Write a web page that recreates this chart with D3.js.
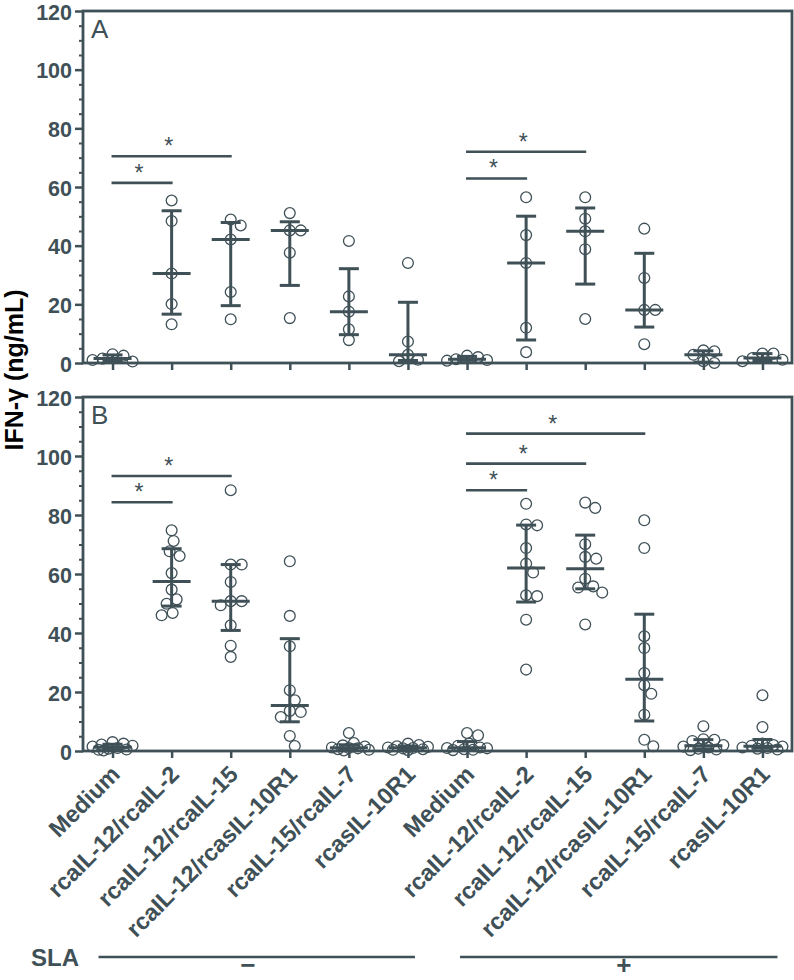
<!DOCTYPE html>
<html>
<head>
<meta charset="utf-8">
<script src="https://cdn.jsdelivr.net/npm/d3@7"></script>
<style>
  html, body { margin: 0; padding: 0; background: #fff; }
  svg { display: block; }
  text { font-family: "Liberation Sans", Arial, Helvetica, sans-serif; }
</style>
</head>
<body>
<div id="chart"></div>
<script>
// ---------- data ----------
const categories = [
  "Medium", "rcaIL-12/rcaIL-2", "rcaIL-12/rcaIL-15", "rcaIL-12/rcasIL-10R1", "rcaIL-15/rcaIL-7", "rcasIL-10R1",
  "Medium", "rcaIL-12/rcaIL-2", "rcaIL-12/rcaIL-15", "rcaIL-12/rcasIL-10R1", "rcaIL-15/rcaIL-7", "rcasIL-10R1"
];
const slaGroups = [
  { label: "\u2212", from: 0, to: 5 },
  { label: "+", from: 6, to: 11 }
];
const yTicks = [0, 20, 40, 60, 80, 100, 120];

// Panel A (n = 5 per group), IFN-γ ng/mL
const valuesA = [
  [3.0, 2.5, 1.5, 1.0, 0.5],
  [55.4, 48.4, 30.5, 20.1, 13.2],
  [48.9, 46.9, 42.1, 24.2, 14.9],
  [51.1, 45.2, 45.2, 37.6, 15.3],
  [41.6, 22.7, 17.5, 11.5, 7.8],
  [34.1, 7.3, 2.8, 1.1, 0.6],
  [2.5, 2.0, 1.3, 1.0, 0.8],
  [56.5, 43.6, 34.1, 12.0, 3.7],
  [56.5, 49.2, 44.9, 38.8, 15.0],
  [45.8, 29.0, 18.1, 18.1, 6.4],
  [4.3, 4.0, 2.8, 0.6, 0.0],
  [3.2, 3.2, 1.7, 1.1, 0.6]
];

// Panel B (n = 10 per group)
const valuesB = [
  [3.0, 2.5, 2.2, 1.8, 1.5, 1.0, 0.8, 0.5, 0.4, 0.2],
  [74.8, 71.2, 67.7, 66.1, 60.3, 54.7, 51.4, 49.9, 46.8, 46.0],
  [88.4, 63.2, 63.2, 57.3, 50.8, 50.8, 49.4, 42.6, 35.7, 31.9],
  [64.3, 45.8, 35.5, 20.6, 17.2, 13.6, 13.2, 11.5, 5.1, 1.7],
  [6.1, 2.7, 1.9, 1.5, 1.2, 1.0, 0.9, 0.6, 0.4, 0.2],
  [2.5, 2.0, 1.6, 1.4, 1.2, 1.0, 0.9, 0.6, 0.4, 0.3],
  [6.1, 5.3, 2.5, 1.8, 1.2, 1.0, 0.9, 0.6, 0.4, 0.3],
  [83.8, 76.8, 76.5, 68.8, 63.5, 60.5, 52.8, 52.5, 44.5, 27.6],
  [84.2, 82.4, 70.1, 65.8, 65.2, 58.4, 55.8, 55.4, 53.7, 42.9],
  [78.2, 68.8, 38.9, 34.9, 26.4, 22.3, 19.4, 12.3, 3.8, 1.6],
  [8.4, 4.0, 3.8, 3.4, 2.0, 1.5, 1.2, 0.8, 0.5, 0.3],
  [18.9, 8.1, 2.5, 2.0, 1.8, 1.5, 1.2, 1.0, 0.8, 0.5]
];

// significance comparisons: [from, to, level (ng/mL)]
const sigA = [[0, 1, 61.4], [0, 2, 70.5], [6, 7, 62.9], [6, 8, 72.0]];
const sigB = [[0, 1, 84.3], [0, 2, 93.2], [6, 7, 88.4], [6, 8, 97.4], [6, 9, 107.6]];

// ---------- drawing ----------
const W = 794, H = 980;
const C = "#3f5057";
const svg = d3.select("#chart").append("svg").attr("width", W).attr("height", H);

const left = 83, right = 792;
const x = d3.scalePoint().domain(d3.range(categories.length)).range([left, right]).padding(0.5);

const panels = [
  { letter: "A", top: 11, bottom: 363, values: valuesA, sig: sigA, labels: false },
  { letter: "B", top: 397, bottom: 751, values: valuesB, sig: sigB, labels: true }
];

function gpQuantile(sorted, p) {
  const n = sorted.length;
  const h = (n + 1) * p;
  if (h <= 1) return sorted[0];
  if (h >= n) return sorted[n - 1];
  const lo = Math.floor(h);
  return sorted[lo - 1] + (h - lo) * (sorted[lo] - sorted[lo - 1]);
}

const R = 5.4;
function dodge(vals, y, maxOff) {
  const placed = [];
  return vals.map(v => {
    const py = y(v);
    let best = 0, bestScore = -Infinity, found = null;
    for (let k = 0; k <= 2 * maxOff; k++) {
      const off = (k % 2 === 1 ? 1 : -1) * Math.ceil(k / 2);
      let md = Infinity;
      placed.forEach(p => { md = Math.min(md, Math.hypot(p.dx - off, p.py - py)); });
      if (md >= 2 * R) { found = off; break; }
      if (md > bestScore + 0.01) { bestScore = md; best = off; }
    }
    const dx = found !== null ? found : best;
    placed.push({ dx, py });
    return { v, dx, py };
  });
}

panels.forEach(P => {
  const y = d3.scaleLinear().domain([0, 120]).range([P.bottom, P.top]);
  const g = svg.append("g");

  // y axis major
  const ya = g.append("g").attr("transform", `translate(${left},0)`)
    .call(d3.axisLeft(y).tickValues(yTicks).tickSize(8).tickPadding(3).tickSizeOuter(0));
  ya.select(".domain").remove();
  ya.selectAll("line").attr("stroke", C).attr("stroke-width", 2.5);
  ya.selectAll("text").attr("fill", C).style("font-size", "21.5px").style("font-weight", "bold")
    .attr("dy", "0.38em");
  // minor ticks
  const ym = g.append("g").attr("transform", `translate(${left},0)`)
    .call(d3.axisLeft(y).tickValues(d3.range(0, 121, 5).filter(v => v % 20 !== 0)).tickSize(4).tickFormat(""));
  ym.select(".domain").remove();
  ym.selectAll("line").attr("stroke", C).attr("stroke-width", 2);

  // x ticks
  const xa = g.append("g").attr("transform", `translate(0,${P.bottom})`)
    .call(d3.axisBottom(x).tickSize(7).tickFormat("").tickSizeOuter(0));
  xa.select(".domain").remove();
  xa.selectAll("line").attr("stroke", C).attr("stroke-width", 2.5);

  // frame
  g.append("rect").attr("x", left).attr("y", P.top)
    .attr("width", right - left).attr("height", P.bottom - P.top)
    .attr("fill", "none").attr("stroke", C).attr("stroke-width", 2.8);

  // panel letter
  g.append("text").attr("x", left + 8).attr("y", P.top + 27)
    .attr("fill", C).style("font-size", "26px").text(P.letter);

  // points
  P.values.forEach((vals, i) => {
    const cx = x(i);
    const pts = dodge(vals, y, 20);
    g.append("g").selectAll("circle").data(pts).join("circle")
      .attr("cx", d => cx + d.dx).attr("cy", d => d.py).attr("r", R)
      .attr("fill", "none").attr("stroke", C).attr("stroke-width", 1.3);

    const s = vals.slice().sort((a, b) => a - b);
    const med = gpQuantile(s, 0.5), q1 = gpQuantile(s, 0.25), q3 = gpQuantile(s, 0.75);
    const eg = g.append("g").attr("stroke", C).attr("stroke-width", 3);
    eg.append("line").attr("x1", cx).attr("x2", cx).attr("y1", y(q1)).attr("y2", y(q3));
    eg.append("line").attr("x1", cx - 10).attr("x2", cx + 10).attr("y1", y(q1)).attr("y2", y(q1));
    eg.append("line").attr("x1", cx - 10).attr("x2", cx + 10).attr("y1", y(q3)).attr("y2", y(q3));
    eg.append("line").attr("x1", cx - 19).attr("x2", cx + 19).attr("y1", y(med)).attr("y2", y(med));
  });

  // significance bars
  P.sig.forEach(([a, b, lvl]) => {
    g.append("line").attr("x1", x(a) - 1).attr("x2", x(b) + 1)
      .attr("y1", y(lvl)).attr("y2", y(lvl))
      .attr("stroke", C).attr("stroke-width", 2.6);
    g.append("text").attr("x", (x(a) + x(b)) / 2 - 3).attr("y", y(lvl) - 2)
      .attr("text-anchor", "middle").attr("fill", C)
      .style("font-size", "23px").text("*");
  });

  // category labels
  if (P.labels) {
    g.append("g").selectAll("text").data(categories).join("text")
      .attr("transform", (d, i) => `translate(${x(i) + 3},${P.bottom + 19}) rotate(-45)`)
      .attr("text-anchor", "end").attr("dy", "0.35em")
      .attr("fill", C).style("font-size", "23.5px").style("font-weight", "bold")
      .text(d => d);
  }
});

// y axis title
svg.append("text")
  .attr("transform", `translate(23,370) rotate(-90)`)
  .attr("text-anchor", "middle").attr("fill", "#000")
  .style("font-size", "25px").style("font-weight", "bold")
  .text("IFN-\u03b3 (ng/mL)");

// SLA row
svg.append("text").attr("x", 31).attr("y", 966).attr("fill", C)
  .style("font-size", "24px").style("font-weight", "bold").text("SLA");
slaGroups.forEach((G, k) => {
  const x1 = x(G.from) - (k === 0 ? 14 : 7), x2 = x(G.to) + (k === 0 ? 7 : 15);
  svg.append("line").attr("x1", x1).attr("x2", x2).attr("y1", 957).attr("y2", 957)
    .attr("stroke", C).attr("stroke-width", 2.6);
  svg.append("text").attr("x", (x1 + x2) / 2 - (k === 0 ? 9 : -5)).attr("y", 974)
    .attr("text-anchor", "middle").attr("fill", C)
    .style("font-size", "26px").style("font-weight", "bold").text(G.label);
});
</script>
</body>
</html>
